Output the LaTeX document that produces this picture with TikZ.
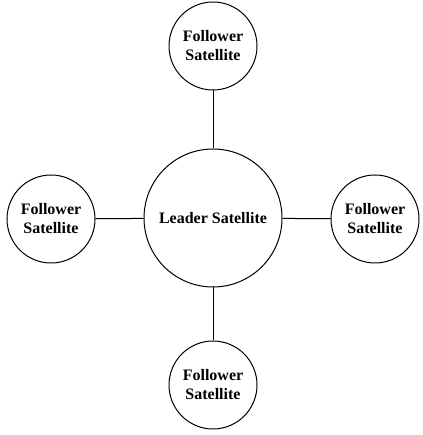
\documentclass[tikz,border=0pt]{standalone}
\usepackage{fontspec}
\setmainfont{Liberation Serif}
\usepackage{tikz}
\usetikzlibrary{positioning}

\tikzset{
	sat/.style={circle,draw,line width=1pt,inner sep=0pt,font=\bfseries\fontsize{16}{19}\selectfont,align=center},
	follower/.style={sat,minimum size=88pt},
	leader/.style={sat,minimum size=138pt},
}

\begin{document}
\begin{tikzpicture}[x=1pt,y=1pt,line width=1pt]
	\useasboundingbox (0,0) rectangle (422,435);
	\node[leader] (lead) at (213, 217) {Leader Satellite};
	\node[follower] (top) at (213, 389) {Follower\\Satellite};
	\node[follower] (bot) at (213, 50) {Follower\\Satellite};
	\node[follower] (left) at (51, 216) {Follower\\Satellite};
	\node[follower] (right) at (375, 216) {Follower\\Satellite};
	\draw (lead) -- (top);
	\draw (lead) -- (bot);
	\draw (lead) -- (left);
	\draw (lead) -- (right);
\end{tikzpicture}
\end{document}
